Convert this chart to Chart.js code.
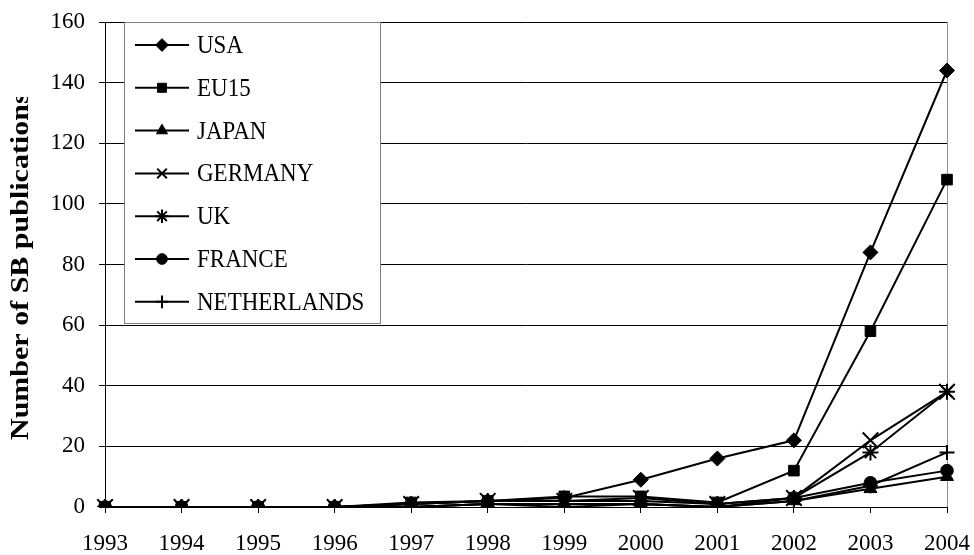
<!DOCTYPE html>
<html>
<head>
<meta charset="utf-8">
<script src="https://cdn.jsdelivr.net/npm/chart.js@4"></script>
<style>
  html, body { margin: 0; padding: 0; background: #fff; }
  #wrap { width: 974px; height: 555px; }
</style>
</head>
<body>
<div id="wrap"><canvas id="chart" width="974" height="555"></canvas></div>
<script>
// data
const years = ['1993', '1994', '1995', '1996', '1997', '1998', '1999', '2000', '2001', '2002', '2003', '2004'];
const usa = [0, 0, 0, 0, 1, 2, 3, 9, 16, 22, 84, 144];
const eu15 = [0, 0, 0, 0, 1.5, 2, 3.5, 3.5, 1.5, 12, 58, 108];
const japan = [0, 0, 0, 0, 0, 1, 1, 1, 0, 2, 6, 10];
const germany = [0, 0, 0, 0, 1, 2, 2, 3, 1, 3, 22, 38];
const uk = [0, 0, 0, 0, 1, 2, 2, 2, 1, 3, 18, 38];
const france = [0, 0, 0, 0, 0, 1, 0, 1, 0, 3, 8, 12];
const netherlands = [0, 0, 0, 0, 0, 1, 1, 1, 0, 2, 7, 18];
const yTitle = 'Number of SB publications';

const FONT = '"Liberation Serif", "Times New Roman", serif';

function series(label, data, style, radius) {
    const lineMark = style === 'crossRot' || style === 'cross' || style === 'star';
    return {
        label: label,
        data: data,
        borderColor: '#000',
        backgroundColor: '#000',
        borderWidth: 2,
        pointStyle: style,
        pointRadius: radius,
        pointBorderWidth: lineMark ? 2 : 1,
        pointBorderColor: '#000',
        pointBackgroundColor: '#000',
        tension: 0
    };
}

// legend box sits inside the plot area in the original
const boxLegend = {
    id: 'boxLegend',
    afterDraw(chart) {
        const ctx = chart.ctx;
        const x0 = 124, y0 = 22, w = 256, h = 301;
        ctx.save();
        ctx.fillStyle = '#fff';
        ctx.fillRect(x0, y0, w, h);
        ctx.strokeStyle = '#808080';
        ctx.lineWidth = 1;
        ctx.strokeRect(x0 + 0.5, y0 + 0.5, w, h);

        chart.data.datasets.forEach((ds, i) => {
            const y = 45 + i * 42.8;
            ctx.strokeStyle = '#000';
            ctx.fillStyle = '#000';
            ctx.lineWidth = 2;
            ctx.beginPath();
            ctx.moveTo(135, y);
            ctx.lineTo(189, y);
            ctx.stroke();
            ctx.lineWidth = ds.pointBorderWidth;
            Chart.helpers.drawPoint(ctx, {
                pointStyle: ds.pointStyle,
                radius: Math.min(ds.pointRadius, 8) * 0.85,
                rotation: 0,
                borderWidth: ds.pointBorderWidth
            }, 162, y);
            // text is a bit taller than wide in the original
            ctx.save();
            ctx.translate(197, y + 8);
            ctx.scale(1, 1.08);
            ctx.font = '23px ' + FONT;
            ctx.textBaseline = 'alphabetic';
            ctx.fillStyle = '#000';
            ctx.fillText(ds.label, 0, 0);
            ctx.restore();
        });
        ctx.restore();
    }
};

// gray frame line on the right of the plot
const rightFrame = {
    id: 'rightFrame',
    beforeDatasetsDraw(chart) {
        const a = chart.chartArea;
        const ctx = chart.ctx;
        ctx.save();
        ctx.strokeStyle = '#909090';
        ctx.lineWidth = 1;
        ctx.beginPath();
        ctx.moveTo(Math.round(a.right) + 0.5, a.top);
        ctx.lineTo(Math.round(a.right) + 0.5, a.bottom);
        ctx.stroke();
        ctx.restore();
    }
};

// y title: long, bold, and cut off at the top as in the original
const clippedTitle = {
    id: 'clippedTitle',
    afterDraw(chart) {
        const ctx = chart.ctx;
        ctx.save();
        ctx.beginPath();
        ctx.rect(0, 97, 45, 400);
        ctx.clip();
        ctx.translate(28, 440);
        ctx.rotate(-Math.PI / 2);
        ctx.scale(1.2, 1);
        ctx.font = 'bold 25px ' + FONT;
        ctx.fillStyle = '#000';
        ctx.textAlign = 'left';
        ctx.textBaseline = 'alphabetic';
        ctx.fillText(yTitle, 0, 0);
        ctx.restore();
    }
};

new Chart(document.getElementById('chart'), {
    type: 'line',
    data: {
        labels: years,
        datasets: [
            series('USA', usa, 'rectRot', 7.5),
            series('EU15', eu15, 'rect', 7.5),
            series('JAPAN', japan, 'triangle', 7.5),
            series('GERMANY', germany, 'crossRot', 11),
            series('UK', uk, 'star', 8),
            series('FRANCE', france, 'circle', 6.3),
            series('NETHERLANDS', netherlands, 'cross', 7.5)
        ]
    },
    options: {
        responsive: false,
        animation: false,
        devicePixelRatio: 1,
        layout: { padding: { top: 22, right: 27, left: 0, bottom: 0 } },
        plugins: {
            legend: { display: false },
            tooltip: { enabled: false }
        },
        scales: {
            x: {
                offset: false,
                grid: {
                    drawOnChartArea: false,
                    drawTicks: true,
                    tickLength: 6,
                    color: '#000'
                },
                border: { display: true, color: '#000', width: 1 },
                ticks: {
                    color: '#000',
                    font: { family: FONT, size: 23 },
                    padding: 17,
                    maxRotation: 0,
                    autoSkip: false
                },
                afterFit(scale) {
                    scale.height = 48;
                    scale.paddingLeft = 0;
                    scale.paddingRight = 0;
                }
            },
            y: {
                min: 0,
                max: 160,
                ticks: {
                    stepSize: 20,
                    color: '#000',
                    font: { family: FONT, size: 23 },
                    padding: 14
                },
                grid: {
                    color: '#000',
                    lineWidth: 1,
                    drawTicks: true,
                    tickLength: 6
                },
                border: { display: true, color: '#000', width: 1 },
                afterFit(scale) {
                    scale.width = 105;
                    scale.paddingTop = 0;
                    scale.paddingBottom = 0;
                }
            }
        }
    },
    plugins: [rightFrame, boxLegend, clippedTitle]
});
</script>
</body>
</html>
